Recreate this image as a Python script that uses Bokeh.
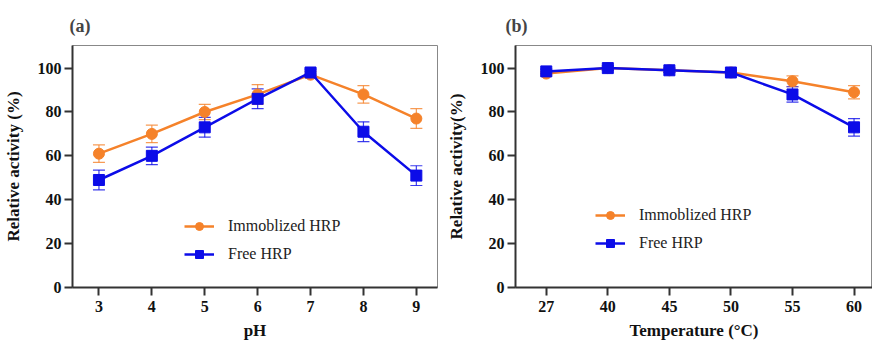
from bokeh.plotting import figure
from bokeh.models import ColumnDataSource, Whisker, TeeHead, Legend, LegendItem, FixedTicker, Range1d
from bokeh.layouts import row
from bokeh.embed import file_html
from bokeh.resources import INLINE

# ---- data ----
ph = [3, 4, 5, 6, 7, 8, 9]
ph_immob = [61, 70, 80, 88, 97, 88, 77]
ph_immob_err = [4, 4, 3.5, 4.5, 1.5, 4, 4.5]
ph_free = [49, 60, 73, 86, 98, 71, 51]
ph_free_err = [4.5, 4, 4.5, 4.5, 1.5, 4.5, 4.5]

temps = ["27", "40", "45", "50", "55", "60"]
t_immob = [97.5, 100, 99, 98, 94, 89]
t_immob_err = [1, 1, 1, 1, 2.5, 3]
t_free = [98.5, 100, 99, 98, 88, 73]
t_free_err = [1, 1, 1, 1, 3.5, 4]

yticks = [0, 20, 40, 60, 80, 100]

ORANGE = "#F5822A"
BLUE = "#0C0CE8"
FONT = "'Liberation Serif'"
AX = "#333333"


def style(p, xlabel, ylabel, title, title_offset):
    p.title.text = title
    p.title.text_font = FONT
    p.title.text_font_size = "18px"
    p.title.text_font_style = "bold"
    p.title.align = "left"
    p.title.offset = title_offset
    p.title.standoff = 20
    p.grid.visible = False
    p.outline_line_color = "#888888"
    p.outline_line_width = 1
    for ax in (p.xaxis[0], p.yaxis[0]):
        ax.axis_line_color = AX
        ax.axis_line_width = 2
        ax.major_tick_line_color = AX
        ax.major_tick_line_width = 2
        ax.major_tick_out = 8
        ax.major_tick_in = 0
        ax.minor_tick_line_color = None
        ax.major_label_text_font = FONT
        ax.major_label_text_font_style = "bold"
        ax.major_label_text_font_size = "16px"
        ax.major_label_text_color = "#111111"
        ax.axis_label_text_font = FONT
        ax.axis_label_text_font_style = "bold"
        ax.axis_label_text_font_size = "17px"
        ax.axis_label_text_color = "#111111"
    p.xaxis[0].axis_label = xlabel
    p.yaxis[0].axis_label = ylabel
    p.xaxis[0].major_label_standoff = 5
    p.yaxis[0].major_label_standoff = 3
    p.xaxis[0].axis_label_standoff = 6
    p.yaxis[0].axis_label_standoff = 12
    p.yaxis[0].ticker = FixedTicker(ticks=yticks)


def add_series(p, xs, ys, errs, color, marker, size):
    src = ColumnDataSource(dict(x=xs, y=ys,
                                lo=[a - b for a, b in zip(ys, errs)],
                                hi=[a + b for a, b in zip(ys, errs)]))
    w = Whisker(source=src, base="x", upper="hi", lower="lo",
                line_color=color, line_width=1.2, line_alpha=0.8,
                upper_head=TeeHead(size=12, line_color=color, line_width=1.2, line_alpha=0.8),
                lower_head=TeeHead(size=12, line_color=color, line_width=1.2, line_alpha=0.8))
    p.add_layout(w)
    ln = p.line("x", "y", source=src, line_color=color, line_width=2.5)
    mk = p.scatter("x", "y", source=src, marker=marker, size=size,
                   fill_color=color, line_color=color)
    return [ln, mk]


def add_legend(p, r1, r2, loc):
    leg = Legend(items=[LegendItem(label="Immoblized HRP", renderers=r1),
                        LegendItem(label="Free HRP", renderers=r2)],
                 location=loc, border_line_color=None, background_fill_alpha=0,
                 padding=0, margin=0, spacing=8, glyph_width=30, glyph_height=20,
                 label_standoff=14, label_text_font=FONT, label_text_font_size="16px",
                 label_text_color="#222222")
    p.add_layout(leg)


H = 342

# ---- panel (a) ----
pa = figure(width=440, height=H, output_backend="svg", toolbar_location=None,
            x_range=Range1d(2.5, 9.4), y_range=Range1d(0, 110.3),
            min_border_left=66, min_border_right=3, min_border_top=43, min_border_bottom=6)
style(pa, "pH", "Relative activity (%)", "(a)", -3)
pa.xaxis[0].ticker = FixedTicker(ticks=ph)
ra1 = add_series(pa, ph, ph_immob, ph_immob_err, ORANGE, "circle", 11)
ra2 = add_series(pa, ph, ph_free, ph_free_err, BLUE, "square", 11)
add_legend(pa, ra1, ra2, (112, 23))

# ---- panel (b) ----
idx = list(range(len(temps)))
pb = figure(width=432, height=H, output_backend="svg", toolbar_location=None,
            x_range=Range1d(-0.5, 5.3), y_range=Range1d(0, 110.3),
            min_border_left=75, min_border_right=0, min_border_top=45, min_border_bottom=6)
style(pb, "Temperature (\u00b0C)", "Relative activity(%)", "(b)", -10)
pb.xaxis[0].ticker = FixedTicker(ticks=idx)
pb.xaxis[0].major_label_overrides = {i: t for i, t in zip(idx, temps)}
rb1 = add_series(pb, idx, t_immob, t_immob_err, ORANGE, "circle", 11)
rb2 = add_series(pb, idx, t_free, t_free_err, BLUE, "square", 11)
add_legend(pb, rb1, rb2, (80, 34))

layout = row(pa, pb)
open("out.html", "w").write(file_html(layout, INLINE))
